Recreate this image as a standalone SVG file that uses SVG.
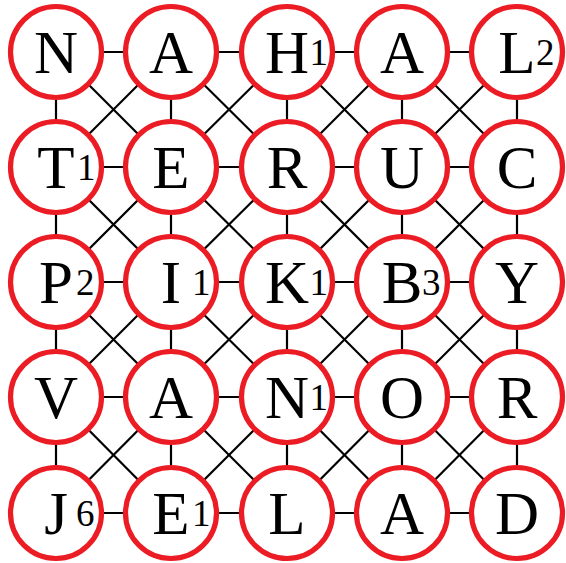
<svg xmlns="http://www.w3.org/2000/svg" width="566" height="563" viewBox="0 0 566 563">
<style>
.c line{stroke:#000;stroke-width:2.2}
.n circle{fill:#fff;stroke:#EC1C24;stroke-width:5.2}
.l{font-family:"Liberation Serif","DejaVu Serif",serif;font-size:61px;text-anchor:middle;fill:#000}
.d{font-family:"Liberation Serif","DejaVu Serif",serif;font-size:37px;text-anchor:start;fill:#000}
</style>
<rect width="566" height="563" fill="#fff"/>
<g id="connectors" class="c">
<line x1="56" y1="52" x2="171" y2="52"/><line x1="171" y1="52" x2="287" y2="52"/><line x1="287" y1="52" x2="402" y2="52"/><line x1="402" y1="52" x2="517" y2="52"/>
<line x1="56" y1="167" x2="171" y2="167"/><line x1="171" y1="167" x2="287" y2="167"/><line x1="287" y1="167" x2="402" y2="167"/><line x1="402" y1="167" x2="517" y2="167"/>
<line x1="56" y1="282" x2="171" y2="282"/><line x1="171" y1="282" x2="287" y2="282"/><line x1="287" y1="282" x2="402" y2="282"/><line x1="402" y1="282" x2="517" y2="282"/>
<line x1="56" y1="397" x2="171" y2="397"/><line x1="171" y1="397" x2="287" y2="397"/><line x1="287" y1="397" x2="402" y2="397"/><line x1="402" y1="397" x2="517" y2="397"/>
<line x1="56" y1="513" x2="171" y2="513"/><line x1="171" y1="513" x2="287" y2="513"/><line x1="287" y1="513" x2="402" y2="513"/><line x1="402" y1="513" x2="517" y2="513"/>
<line x1="56" y1="52" x2="56" y2="167"/><line x1="56" y1="167" x2="56" y2="282"/><line x1="56" y1="282" x2="56" y2="397"/><line x1="56" y1="397" x2="56" y2="513"/>
<line x1="171" y1="52" x2="171" y2="167"/><line x1="171" y1="167" x2="171" y2="282"/><line x1="171" y1="282" x2="171" y2="397"/><line x1="171" y1="397" x2="171" y2="513"/>
<line x1="287" y1="52" x2="287" y2="167"/><line x1="287" y1="167" x2="287" y2="282"/><line x1="287" y1="282" x2="287" y2="397"/><line x1="287" y1="397" x2="287" y2="513"/>
<line x1="402" y1="52" x2="402" y2="167"/><line x1="402" y1="167" x2="402" y2="282"/><line x1="402" y1="282" x2="402" y2="397"/><line x1="402" y1="397" x2="402" y2="513"/>
<line x1="517" y1="52" x2="517" y2="167"/><line x1="517" y1="167" x2="517" y2="282"/><line x1="517" y1="282" x2="517" y2="397"/><line x1="517" y1="397" x2="517" y2="513"/>
<line x1="56" y1="52" x2="171" y2="167"/><line x1="171" y1="52" x2="56" y2="167"/>
<line x1="171" y1="52" x2="287" y2="167"/><line x1="287" y1="52" x2="171" y2="167"/>
<line x1="287" y1="52" x2="402" y2="167"/><line x1="402" y1="52" x2="287" y2="167"/>
<line x1="402" y1="52" x2="517" y2="167"/><line x1="517" y1="52" x2="402" y2="167"/>
<line x1="56" y1="167" x2="171" y2="282"/><line x1="171" y1="167" x2="56" y2="282"/>
<line x1="171" y1="167" x2="287" y2="282"/><line x1="287" y1="167" x2="171" y2="282"/>
<line x1="287" y1="167" x2="402" y2="282"/><line x1="402" y1="167" x2="287" y2="282"/>
<line x1="402" y1="167" x2="517" y2="282"/><line x1="517" y1="167" x2="402" y2="282"/>
<line x1="56" y1="282" x2="171" y2="397"/><line x1="171" y1="282" x2="56" y2="397"/>
<line x1="171" y1="282" x2="287" y2="397"/><line x1="287" y1="282" x2="171" y2="397"/>
<line x1="287" y1="282" x2="402" y2="397"/><line x1="402" y1="282" x2="287" y2="397"/>
<line x1="402" y1="282" x2="517" y2="397"/><line x1="517" y1="282" x2="402" y2="397"/>
<line x1="56" y1="397" x2="171" y2="513"/><line x1="171" y1="397" x2="56" y2="513"/>
<line x1="171" y1="397" x2="287" y2="513"/><line x1="287" y1="397" x2="171" y2="513"/>
<line x1="287" y1="397" x2="402" y2="513"/><line x1="402" y1="397" x2="287" y2="513"/>
<line x1="402" y1="397" x2="517" y2="513"/><line x1="517" y1="397" x2="402" y2="513"/>
</g>
<g id="n11" class="n"><circle cx="56" cy="52" r="45.5"/><text class="l" x="56" y="73">N</text></g>
<g id="n12" class="n"><circle cx="171" cy="52" r="45.5"/><text class="l" x="171" y="73">A</text></g>
<g id="n13" class="n"><circle cx="287" cy="52" r="45.5"/><text class="l" x="287" y="73">H</text><text class="d" x="309.5" y="65">1</text></g>
<g id="n14" class="n"><circle cx="402" cy="52" r="45.5"/><text class="l" x="402" y="73">A</text></g>
<g id="n15" class="n"><circle cx="517" cy="52" r="45.5"/><text class="l" x="517" y="73">L</text><text class="d" x="536" y="65">2</text></g>
<g id="n21" class="n"><circle cx="56" cy="167" r="45.5"/><text class="l" x="56" y="188">T</text><text class="d" x="77" y="180">1</text></g>
<g id="n22" class="n"><circle cx="171" cy="167" r="45.5"/><text class="l" x="171" y="188">E</text></g>
<g id="n23" class="n"><circle cx="287" cy="167" r="45.5"/><text class="l" x="287" y="188">R</text></g>
<g id="n24" class="n"><circle cx="402" cy="167" r="45.5"/><text class="l" x="402" y="188">U</text></g>
<g id="n25" class="n"><circle cx="517" cy="167" r="45.5"/><text class="l" x="517" y="188">C</text></g>
<g id="n31" class="n"><circle cx="56" cy="282" r="45.5"/><text class="l" x="56" y="303">P</text><text class="d" x="76" y="295">2</text></g>
<g id="n32" class="n"><circle cx="171" cy="282" r="45.5"/><text class="l" x="171" y="303">I</text><text class="d" x="192" y="295">1</text></g>
<g id="n33" class="n"><circle cx="287" cy="282" r="45.5"/><text class="l" x="287" y="303">K</text><text class="d" x="309.5" y="295">1</text></g>
<g id="n34" class="n"><circle cx="402" cy="282" r="45.5"/><text class="l" x="402" y="303">B</text><text class="d" x="422" y="295">3</text></g>
<g id="n35" class="n"><circle cx="517" cy="282" r="45.5"/><text class="l" x="517" y="303">Y</text></g>
<g id="n41" class="n"><circle cx="56" cy="397" r="45.5"/><text class="l" x="56" y="418">V</text></g>
<g id="n42" class="n"><circle cx="171" cy="397" r="45.5"/><text class="l" x="171" y="418">A</text></g>
<g id="n43" class="n"><circle cx="287" cy="397" r="45.5"/><text class="l" x="287" y="418">N</text><text class="d" x="309.5" y="410">1</text></g>
<g id="n44" class="n"><circle cx="402" cy="397" r="45.5"/><text class="l" x="402" y="418">O</text></g>
<g id="n45" class="n"><circle cx="517" cy="397" r="45.5"/><text class="l" x="517" y="418">R</text></g>
<g id="n51" class="n"><circle cx="56" cy="513" r="45.5"/><text class="l" x="56" y="534">J</text><text class="d" x="76" y="526">6</text></g>
<g id="n52" class="n"><circle cx="171" cy="513" r="45.5"/><text class="l" x="171" y="534">E</text><text class="d" x="192" y="526">1</text></g>
<g id="n53" class="n"><circle cx="287" cy="513" r="45.5"/><text class="l" x="287" y="534">L</text></g>
<g id="n54" class="n"><circle cx="402" cy="513" r="45.5"/><text class="l" x="402" y="534">A</text></g>
<g id="n55" class="n"><circle cx="517" cy="513" r="45.5"/><text class="l" x="517" y="534">D</text></g>
</svg>
